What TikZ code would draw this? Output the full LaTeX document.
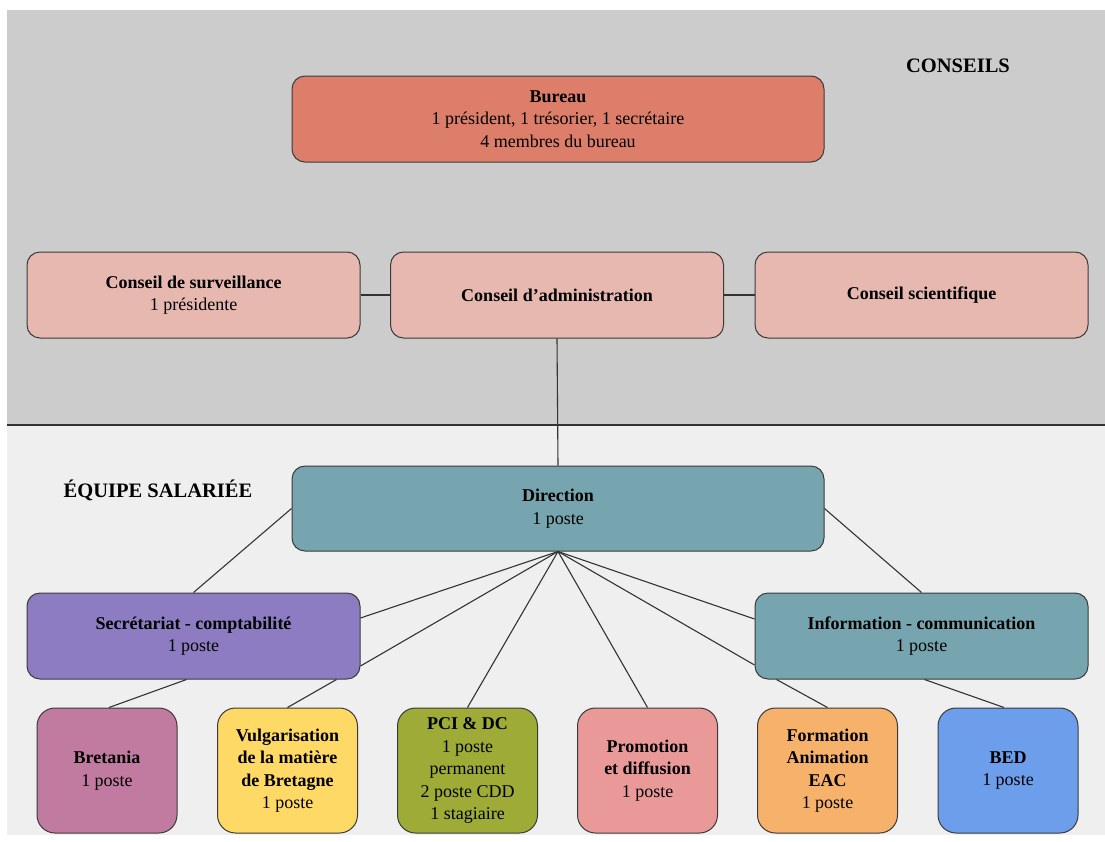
\documentclass[tikz,border=0pt]{standalone}
\usepackage{fontspec}
\setmainfont{Liberation Serif}
\newcommand\fsz{\fontsize{18}{22.5}\selectfont}
\newcommand\fsbig{\fontsize{20.5}{24}\selectfont}
\definecolor{topbg}{HTML}{CCCCCC}
\definecolor{botbg}{HTML}{EFEFEF}
\definecolor{linec}{HTML}{333333}
\definecolor{edgec}{HTML}{3A3A3A}
\definecolor{cbureau}{HTML}{DD7E6B}
\definecolor{cconseil}{HTML}{E6B8AF}
\definecolor{cdir}{HTML}{76A5AF}
\definecolor{csec}{HTML}{8E7CC3}
\definecolor{cbret}{HTML}{C27BA0}
\definecolor{cvulg}{HTML}{FFD966}
\definecolor{cpci}{HTML}{9EAB36}
\definecolor{cpromo}{HTML}{EA9999}
\definecolor{cform}{HTML}{F6B26B}
\definecolor{cbed}{HTML}{6D9EEB}
\tikzset{
  box/.style={draw=edgec, line width=1pt, rounded corners=13pt, align=center,
    font=\fsz, inner sep=0pt, text=black},
  widebox/.style={box, minimum width=333pt, minimum height=86pt},
  smallbox/.style={box, rounded corners=18pt, minimum width=140pt, minimum height=125pt},
  conn/.style={draw=linec, line width=1.1pt},
  sectitle/.style={font=\fsbig\bfseries, inner sep=0pt}
}
\begin{document}
\begin{tikzpicture}[x=1pt,y=-1pt]
\useasboundingbox (0,0) rectangle (1105,841);
\fill[topbg] (7,10) rectangle (1105,425);
\fill[botbg] (7,425) rectangle (1105,835);
\draw[linec, line width=1.2pt] (7,425) -- (1105,425);

\node[sectitle] (tconseils) at (958,66) {CONSEILS};
\node[sectitle] (tequipe) at (158,490) {ÉQUIPE SALARIÉE};

\node[box, fill=cbureau, minimum width=532pt, minimum height=86pt] (bureau) at (558,119)
  {\textbf{Bureau}\\1 président, 1 trésorier, 1 secrétaire\\4 membres du bureau};

\node[widebox, fill=cconseil] (surv) at (193.5,295) {\textbf{Conseil de surveillance}\\1 présidente};
\node[widebox, fill=cconseil] (admin) at (557,295) {\textbf{Conseil d’administration}};
\node[widebox, fill=cconseil] (scien) at (921.5,295) {\textbf{Conseil scientifique}};

\node[box, fill=cdir, minimum width=532pt, minimum height=85pt] (dir) at (558,508.5)
  {\textbf{Direction}\\1 poste};

\node[widebox, fill=csec] (sec) at (193.5,636) {\textbf{Secrétariat - comptabilité}\\1 poste};
\node[widebox, fill=cdir] (info) at (921.5,636) {\textbf{Information - communication}\\1 poste};

\node[smallbox, fill=cbret] (bret) at (107,770.5) {\textbf{Bretania}\\1 poste};
\node[smallbox, fill=cvulg] (vulg) at (287.5,770.5) {\textbf{Vulgarisation}\\\textbf{de la matière}\\\textbf{de Bretagne}\\1 poste};
\node[smallbox, fill=cpci] (pci) at (467.5,770.5) {\textbf{PCI \& DC}\\1 poste\\permanent\\2 poste CDD\\1 stagiaire};
\node[smallbox, fill=cpromo] (promo) at (647.5,770.5) {\textbf{Promotion}\\\textbf{et diffusion}\\1 poste};
\node[smallbox, fill=cform] (form) at (827.5,770.5) {\textbf{Formation}\\\textbf{Animation}\\\textbf{EAC}\\1 poste};
\node[smallbox, fill=cbed] (bed) at (1008,770.5) {\textbf{BED}\\1 poste};

% conseils
\draw[conn] (surv.east) -- (admin.west);
\draw[conn] (admin.east) -- (scien.west);
\draw[conn] (admin.south) -- (dir.north);

% direction
\draw[conn] (dir.west) -- (sec.north);
\draw[conn] (dir.east) -- (info.north);
\draw[conn] (dir.south) -- ([yshift=18pt]sec.east);
\draw[conn] (dir.south) -- ([yshift=-30pt]sec.east);
\draw[conn] (dir.south) -- (pci.north);
\draw[conn] (dir.south) -- (promo.north);
\draw[conn] (dir.south) -- ([yshift=17pt]info.west);
\draw[conn] (dir.south) -- ([yshift=-29pt]info.west);

% sub-levels
\draw[conn] ([xshift=-7pt]sec.south) -- ([xshift=2pt]bret.north);
\draw[conn] ([xshift=143pt]sec.south) -- (vulg.north);
\draw[conn] ([xshift=-145pt]info.south) -- (form.north);
\draw[conn] ([xshift=3pt]info.south) -- ([xshift=-4pt]bed.north);
\end{tikzpicture}
\end{document}
